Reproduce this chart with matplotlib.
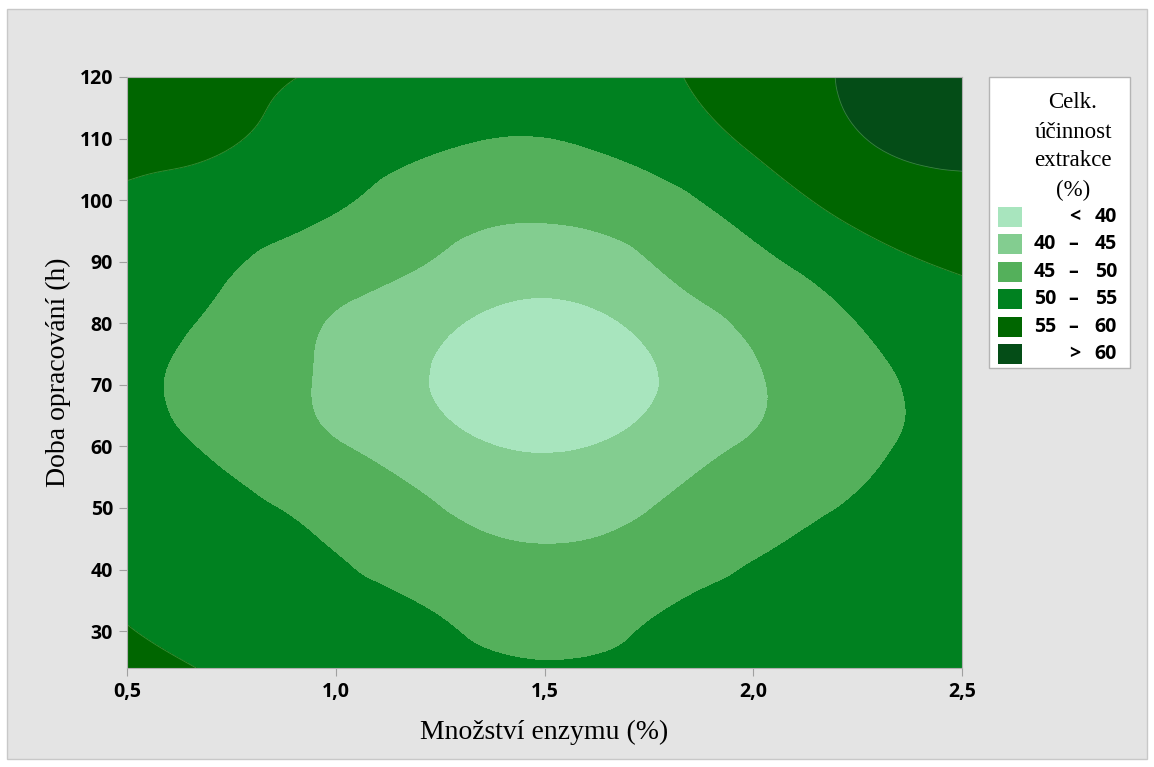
import matplotlib
matplotlib.use("Agg")
import numpy as np
import matplotlib.pyplot as plt
import matplotlib.tri as mtri
from matplotlib.patches import Rectangle


# =========================
# DATA
# =========================
enzyme_pct = [0.5, 0.75, 1.0, 1.25, 1.5, 1.75, 2.0, 2.25, 2.5]
time_h = [24, 36, 48, 60, 72, 84, 96, 108, 120]

# total extraction efficiency (%), one row per time value (bottom -> top)
efficiency = [
    [56.3, 54.4, 52.8, 51.2, 50.3, 50.8, 51.8, 52.8, 53.8],
    [54.4, 52.6, 50.9, 49.1, 47.2, 49.0, 50.8, 51.8, 53.0],
    [53.6, 51.5, 48.9, 45.6, 44.0, 45.4, 48.6, 50.65, 52.2],
    [52.0, 48.8, 45.3, 41.95, 39.4, 42.0, 45.5, 48.9, 51.6],
    [51.2, 47.8, 44.2, 39.3, 35.5, 39.4, 44.6, 48.75, 51.6],
    [52.6, 49.3, 45.45, 42.6, 39.9, 43.0, 46.85, 51.0, 54.0],
    [54.1, 51.8, 49.4, 46.2, 44.9, 46.6, 50.9, 55.3, 57.4],
    [55.7, 54.9, 52.3, 50.04, 49.2, 51.4, 55.2, 59.3, 60.9],
    [57.3, 55.8, 54.6, 53.3, 52.9, 54.1, 57.3, 60.7, 63.0],
]

levels = [0, 40, 45, 50, 55, 60, 100]
band_colors = ["#a8e5be", "#83cd90", "#54b05b", "#008120", "#006600", "#044d17"]
legend_rows = [
    ("", "<", "40"),
    ("40", "\u2013", "45"),
    ("45", "\u2013", "50"),
    ("50", "\u2013", "55"),
    ("55", "\u2013", "60"),
    ("", ">", "60"),
]
legend_title = ["Celk.", "účinnost", "extrakce", "(%)"]

x_ticks = [0.5, 1.0, 1.5, 2.0, 2.5]
x_tick_labels = ["0,5", "1,0", "1,5", "2,0", "2,5"]
y_ticks = [30, 40, 50, 60, 70, 80, 90, 100, 110, 120]

SANS = "Open Sans"
SERIF = "Liberation Serif"
W, H = 1154, 767


# =========================
# SURFACE: smooth the grid with matplotlib's cubic tri interpolator
# =========================
gx, gy = np.meshgrid(enzyme_pct, time_h)
y_scale = 48.0  # time step of 12 h ~ enzyme step of 0.25 %
z_grid = np.asarray(efficiency).ravel()
tri = mtri.Triangulation(gx.ravel(), gy.ravel() / y_scale)
interp = mtri.CubicTriInterpolator(tri, z_grid, kind="min_E")
refiner = mtri.UniformTriRefiner(tri)
tri_fine, z_fine = refiner.refine_field(z_grid, triinterpolator=interp, subdiv=4)
tri_fine = mtri.Triangulation(tri_fine.x, tri_fine.y * y_scale, tri_fine.triangles)


# =========================
# FIGURE
# =========================
fig = plt.figure(figsize=(W / 100, H / 100), dpi=100)
fig.patch.set_facecolor("white")
fig.patches.append(Rectangle(
    (7 / W, 1 - 759 / H), (1147 - 7) / W, (759 - 9) / H,
    transform=fig.transFigure, facecolor="#e4e4e4", edgecolor="#c8c8c8",
    lw=1, zorder=-10,
))

ax = fig.add_axes([127 / W, 1 - 668 / H, (962 - 127) / W, (668 - 77) / H])
ax.tricontourf(tri_fine, z_fine, levels=levels, colors=band_colors)
# faint outline that Minitab leaves on the darkest boundaries
ax.tricontour(tri_fine, z_fine, levels=[55, 60], colors="#4f9f4f",
              linewidths=0.6, alpha=0.7)

ax.set_xlim(0.5, 2.5)
ax.set_ylim(24, 120)
ax.set_xticks(x_ticks)
ax.set_xticklabels(x_tick_labels)
ax.set_yticks(y_ticks)
ax.set_yticklabels([str(v) for v in y_ticks])

for lab in ax.get_xticklabels() + ax.get_yticklabels():
    lab.set_fontfamily(SANS)
    lab.set_fontsize(14)
    lab.set_fontweight("bold")

ax.tick_params(axis="both", color="#a0a0a0", length=6, width=0.8, pad=4)
for sp in ax.spines.values():
    sp.set_color("#b0b0b0")
    sp.set_linewidth(0.8)

ax.set_xlabel("Množství enzymu (%)", family=SERIF, fontsize=20, va="center")
ax.xaxis.set_label_coords(0.5, (668 - 732) / 591)
ax.set_ylabel("Doba opracování (h)", family=SERIF, fontsize=20, va="center")
ax.yaxis.set_label_coords((58 - 127) / 835, 0.5)


# =========================
# LEGEND (drawn in pixel coordinates)
# =========================
lax = fig.add_axes([0, 0, 1, 1])
lax.set_xlim(0, W)
lax.set_ylim(H, 0)
lax.axis("off")

lax.add_patch(Rectangle((989, 77), 141, 291, facecolor="white", edgecolor="#b4b4b4", lw=1))

for i, line in enumerate(legend_title):
    lax.text(1073, 103 + i * 29, line, family=SERIF, fontsize=16.5,
             ha="center", va="center")

for i, (low, sign, high) in enumerate(legend_rows):
    yc = 217 + i * 27.4
    lax.add_patch(Rectangle((998, yc - 10), 24, 20, facecolor=band_colors[i], edgecolor="none"))
    style = dict(family=SANS, fontsize=14, fontweight="bold", va="center")
    if low:
        lax.text(1056, yc, low, ha="right", **style)
        lax.text(1073, yc, sign, ha="center", **style)
    else:
        lax.text(1075, yc, sign, ha="center", **style)
    lax.text(1117, yc, high, ha="right", **style)

fig.savefig("out.png", dpi=100)
